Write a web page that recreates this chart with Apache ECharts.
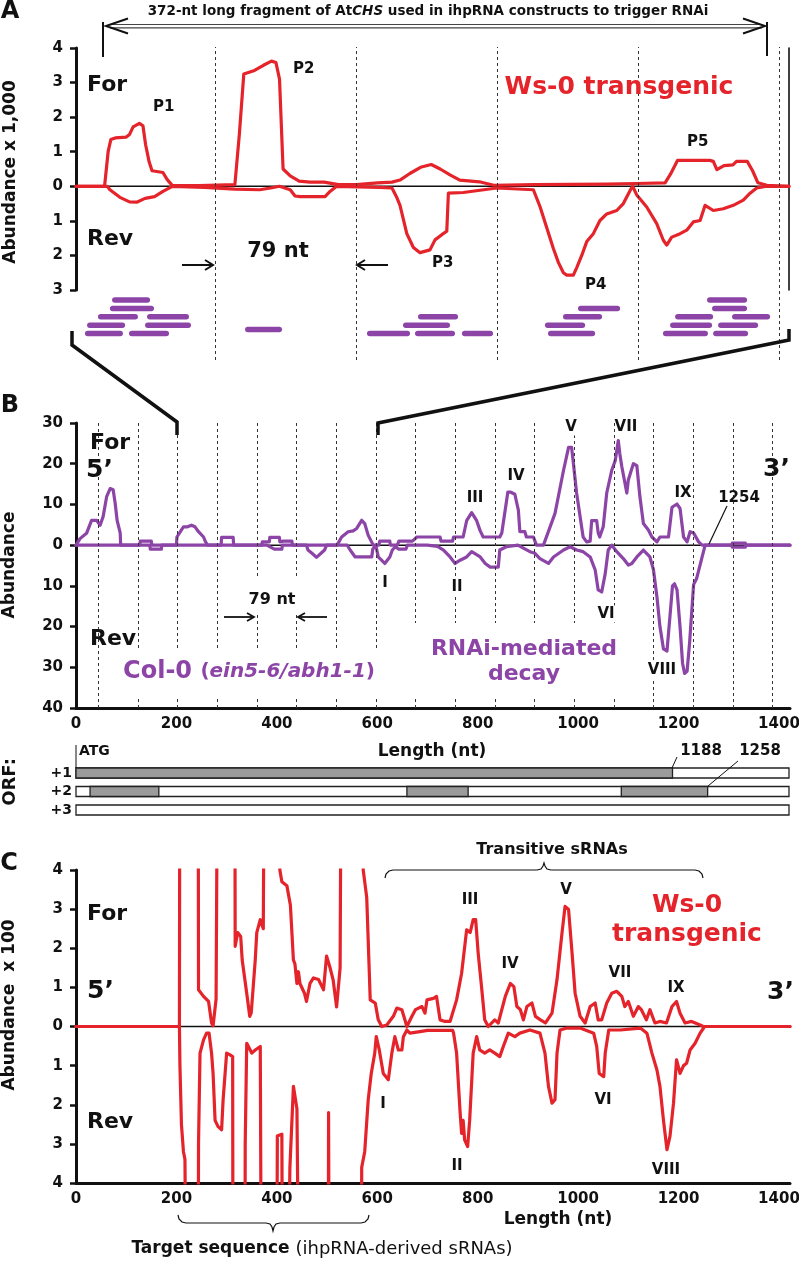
<!DOCTYPE html>
<html><head><meta charset="utf-8">
<script src="https://cdn.jsdelivr.net/npm/echarts@6/dist/echarts.min.js"></script>
<style>html,body{margin:0;padding:0;background:#fff}#c{width:799px;height:1262px}</style>
</head><body><div id="c"></div>
<script>
// ---------- DATA ----------
// Panel A (Ws-0 transgenic, zoom on 372-nt trigger), nt vs abundance x1000
const aForward = [[203,0],[219,0],[221,1.0],[222.5,1.35],[225,1.4],[231,1.42],[233,1.5],[235,1.72],[238.5,1.82],[240.5,1.75],[242,1.2],[244,0.7],[245.6,0.45],[251.7,0.4],[254,0.2],[257,0.02],[272,0.02],[292,0.05],[294.5,1.5],[297,3.25],[303,3.35],[308,3.5],[312.5,3.62],[315,3.58],[317,3.1],[319,0.5],[323,0.3],[328,0.15],[334,0.12],[342,0.12],[350,0.05],[360,0.05],[372,0.1],[380,0.12],[384.5,0.18],[390,0.37],[396,0.55],[402,0.63],[407,0.5],[412.5,0.33],[418,0.18],[429,0.13],[437,0.03],[460,0.05],[500,0.06],[517,0.08],[533,0.1],[536,0.35],[540,0.75],[558,0.75],[560,0.72],[562,0.48],[566,0.6],[571,0.62],[573,0.72],[579,0.72],[582,0.45],[585,0.1],[590,0.03],[602.4,0]];
const aReverse = [[203,0],[220.5,0],[222,-0.1],[227.6,-0.32],[233,-0.45],[237,-0.46],[241.7,-0.35],[247,-0.3],[251.7,-0.15],[257,0],[275,-0.03],[292,-0.08],[306,-0.1],[312,-0.05],[317,0],[323,-0.1],[325.7,-0.28],[328.5,-0.3],[342.5,-0.3],[345.3,-0.15],[349,0],[373,-0.03],[380,-0.05],[382.5,-0.3],[384.5,-0.55],[388.3,-1.37],[392,-1.77],[395.7,-1.92],[401.3,-1.84],[404.1,-1.55],[407.9,-1.4],[410.7,-1.3],[411.6,-0.2],[420,-0.18],[438.7,-0.05],[459.2,-0.1],[463,-0.6],[466.7,-1.2],[470.4,-1.8],[473.2,-2.2],[476,-2.5],[477.9,-2.57],[481.6,-2.57],[483.5,-2.35],[486.3,-2.0],[489.1,-1.6],[492.8,-1.37],[496.5,-0.99],[500.3,-0.8],[505.9,-0.7],[509.6,-0.5],[513.4,-0.12],[514.8,0],[517.1,-0.25],[522.7,-0.6],[528.3,-1.08],[532,-1.56],[533.9,-1.7],[536.7,-1.47],[541.4,-1.37],[545.1,-1.27],[548.8,-1.03],[552.6,-0.99],[555.4,-0.55],[560,-0.7],[565.6,-0.65],[571.2,-0.55],[576.8,-0.4],[580.6,-0.2],[584.3,-0.05],[590,0],[602.4,0]];
// sRNA positions under panel A: [start nt, end nt, row]
const aSrnaBars = [[223.2,244.5,0],[556.5,578.9,0],
 [222,246.7,1],[484.2,507.8,1],[559.3,578.9,1],
 [215.3,237.7,2],[242.8,266.3,2],[394.6,417,2],[475.8,497.7,2],[538.6,559.9,2],[570.5,591.8,2],
 [209.2,230.5,3],[241.7,267.4,3],[386.2,412.5,3],[465.7,488.2,3],[535.8,559.3,3],[562.7,585.1,3],
 [297.7,318.4,3.5],
 [208,229.3,4],[232.7,255.1,4],[366,390.1,4],[392.9,415.3,4],[419.2,436.6,4],[467.4,493.8,4],[531.8,557,4],[559.9,579.5,4]];
const aGuides = [281,360,439,518,597];
const aRange = [203,602.4];

// Panel B (Col-0), abundance
const bForward = [[0,0],[8,1.6],[21,2.9],[31,6.1],[41,6.1],[48,4.9],[54,7],[61,11.9],[68,13.9],[74,13.6],[78,10.3],[82,6],[88,3],[89,0],[127,0],[128,1],[150,1],[151,0],[200,0],[201,2],[214,4.5],[222,4.5],[230,4.9],[237,4.5],[244,3.3],[254,2],[258,0.8],[262,0],[289,0],[290,1.9],[313,1.9],[314,0],[370,0],[371,0.8],[385,0.8],[386,1.9],[405,1.9],[406,0.8],[413,1],[430,1],[431,0],[520,0],[529,2],[542,3.3],[552,3.5],[559,4.1],[569,6.1],[575,5.3],[582,2.4],[592,0],[603,0],[605,1],[625,1],[626,0],[640,0],[643,1],[670,1],[679,2],[725,2],[727,1],[750,1],[752,2],[771,2],[778,6],[788,8],[798,6],[805,3.5],[811,2],[844,2],[848,3],[860,13],[866,13],[874,12.5],[881,8.6],[884,3.3],[894,3.3],[897,2],[911,2],[917,0],[931,0],[954,7.8],[971,18.4],[981,24],[987,24],[990,20.8],[997,12.8],[1004,7],[1010,2],[1017,0.8],[1024,1],[1027,6],[1037,6],[1040,3],[1043,2],[1050,4.5],[1057,12.8],[1067,18.4],[1074,20.8],[1080,25.7],[1083,22.5],[1087,19.3],[1097,12.8],[1100,16],[1110,20],[1117,19.5],[1123,12],[1130,5.3],[1140,3.7],[1147,2],[1157,0.8],[1163,2],[1180,2],[1187,9.3],[1197,10.1],[1203,9],[1210,2],[1217,0.8],[1223,3.3],[1230,3],[1240,0.8],[1247,0],[1306,0],[1307,0.5],[1333,0.5],[1334,0],[1422,0]];
const bReverse = [[0,0],[147,0],[148,-1],[170,-1],[171,0],[380,0],[395,-1],[410,-1],[411,0],[459,0],[462,-1.2],[470,-2],[479,-3],[488,-2],[495,-1.2],[499,0],[540,0],[546,-1.2],[556,-2.9],[589,-2.9],[591,-1],[597,0],[602,-2.9],[615,-4.5],[625,-2.9],[630,-1.2],[636,-0.4],[643,-1],[657,-1],[660,0],[700,0],[720,-0.3],[732,-1.2],[745,-2.9],[755,-4.5],[765,-3.7],[778,-2.9],[788,-1.6],[805,-2.9],[815,-4.5],[825,-5.4],[841,-5.4],[844,-1.2],[857,-0.4],[880,0],[904,-1.6],[914,-2],[924,-3.3],[941,-4.5],[951,-2.9],[971,-1.2],[984,-0.4],[997,-1.2],[1010,-1.6],[1024,-2.9],[1034,-6.1],[1040,-11],[1047,-11.5],[1054,-7],[1060,-1.2],[1067,0],[1077,-1.6],[1090,-3.3],[1100,-4.9],[1107,-4.5],[1117,-2.9],[1130,-1.2],[1143,-2.9],[1150,-6],[1157,-12.7],[1163,-20],[1170,-25.5],[1177,-26],[1183,-17.4],[1188,-10],[1192,-9.5],[1197,-11],[1203,-20],[1208,-29],[1212,-31.5],[1217,-31],[1222,-24],[1230,-9.7],[1236,-8.2],[1247,-2.9],[1253,0],[1306,0],[1307,-0.5],[1333,-0.5],[1334,0],[1422,0]];
const bGuides = [44,123,202,281,360,439,518,597,676,755,834,913,992,1071,1150,1229,1308,1387];
const fullRange = [0,1422];

// ORF frames: [start nt, end nt, frame index, filled(1)/open(0)]
const orfFrames = ['+1','+2','+3'];
const orfSegments = [[0,1420,0,0],[0,1188,0,1],[0,1420,1,0],[28,165,1,1],[659,781,1,1],[1086,1258,1,1],[0,1420,2,0]];

// Panel C (Ws-0 transgenic, x100)
const cForward = [[0,0],[206,0],[207,10],[243,10],[244,0.94],[254,0.77],[264,0.64],[270,0.09],[273,0.02],[279,0.7],[283,10],[316,10],[317,2.05],[322,2.4],[328,2.3],[331,1.7],[340,0.85],[346,0.26],[349,0.35],[357,1.7],[360,2.4],[367,2.73],[373,2.5],[376,10],[405,10],[406,4.0],[410,3.7],[420,3.6],[427,3.1],[433,1.7],[436,1.6],[440,1.1],[443,1.4],[446,1.1],[455,0.85],[459,0.64],[466,1.1],[473,1.24],[483,1.2],[493,0.94],[499,1.8],[506,1.5],[512,1.2],[519,0.5],[526,1.5],[529,10],[571,10],[572,4],[579,3.3],[586,0.68],[596,0.6],[602,0.17],[609,0],[619,0.04],[632,0.26],[639,0.47],[649,0.43],[659,0],[669,0.26],[676,0.43],[689,0.51],[695,0.34],[699,0.68],[712,0.72],[718,0.77],[725,0.17],[735,0.13],[745,0.13],[758,0.68],[768,1.36],[778,2.47],[785,2.4],[791,2.73],[796,2.73],[801,1.87],[807,1.1],[814,0.17],[821,0],[834,0.17],[841,0.09],[855,0.77],[865,1.1],[872,1.02],[878,0.51],[885,0.43],[891,0.17],[898,0.51],[908,0.6],[915,0.26],[925,0.17],[935,0.09],[948,0.34],[958,1.2],[968,2.4],[974,3.07],[981,2.99],[988,1.87],[994,0.85],[1004,0.26],[1014,0.09],[1024,0.51],[1034,0.6],[1040,0.17],[1047,0.17],[1057,0.6],[1067,0.85],[1077,0.9],[1087,0.77],[1093,0.51],[1100,0.64],[1110,0.26],[1120,0.51],[1126,0.43],[1136,0.17],[1143,0.43],[1153,0.09],[1163,0.13],[1176,0.09],[1187,0.51],[1196,0.64],[1203,0.34],[1213,0.09],[1226,0.13],[1243,0.04],[1249,0],[1422,0]];
const cReverse = [[0,0],[206,0],[207,-1],[210,-2.5],[214,-3.2],[217,-3.4],[221,-10],[243,-10],[244,-3],[247,-0.68],[254,-0.34],[260,-0.17],[265,-0.17],[270,-0.68],[273,-1.2],[277,-2.4],[283,-2.56],[290,-2.64],[293,-1.87],[300,-0.68],[306,-0.72],[312,-0.77],[313,-10],[336,-10],[337,-3],[340,-0.43],[350,-0.68],[357,-0.6],[367,-0.51],[370,-10],[399,-10],[401,-2.8],[410,-2.75],[412,-10],[420,-10],[426,-3.6],[433,-1.53],[436,-1.53],[440,-2.1],[446,-10],[502,-10],[503,-2.2],[505,-10],[568,-10],[569,-3.6],[575,-3.2],[582,-1.87],[588,-1.2],[595,-0.68],[598,-0.26],[604,-0.6],[612,-1.2],[622,-1.36],[629,-0.68],[635,-0.26],[642,-0.6],[649,-0.6],[652,-0.26],[659,-0.09],[665,-0.17],[685,-0.13],[700,-0.1],[750,-0.1],[752,-0.17],[758,-0.68],[765,-2.2],[768,-2.73],[771,-2.4],[774,-2.9],[780,-3.07],[784,-2.4],[791,-0.68],[798,-0.26],[804,-0.6],[814,-0.68],[824,-0.6],[834,-0.68],[844,-0.77],[851,-0.51],[861,-0.17],[874,-0.26],[884,-0.17],[904,-0.09],[924,-0.17],[934,-0.68],[941,-1.53],[948,-1.96],[954,-1.87],[958,-0.68],[964,-0.09],[978,-0.04],[1004,-0.04],[1031,-0.17],[1037,-0.51],[1042,-1.2],[1051,-1.28],[1054,-0.68],[1061,-0.09],[1084,-0.09],[1124,-0.04],[1137,-0.17],[1147,-0.68],[1157,-1.11],[1163,-1.53],[1170,-2.4],[1177,-3.15],[1183,-2.8],[1190,-1.96],[1196,-0.85],[1203,-1.2],[1210,-1.0],[1216,-0.94],[1223,-0.6],[1233,-0.43],[1243,-0.17],[1252,0],[1422,0]];

// ---------- CHART ----------
const F = '"DejaVu Sans", "Liberation Sans", sans-serif';
const RED = '#e4232a', PUR = '#8c45a7', BLK = '#111';
const chart = echarts.init(document.getElementById('c'), null, {renderer:'canvas'});

function grid(l,t,w,h){return {left:l,top:t,width:w,height:h,containLabel:false,outerBoundsMode:'none'};}
const lbl = (size, extra) => Object.assign({color:BLK, fontFamily:F, fontWeight:'bold', fontSize:size}, extra||{});
function valueY(gi,min,max,interval){
  return {gridIndex:gi,type:'value',min:min,max:max,interval:interval,
    axisLine:{show:true,onZero:false,lineStyle:{color:BLK,width:3}},
    axisTick:{show:true,inside:false,length:6,lineStyle:{color:BLK,width:2.5}},
    axisLabel:lbl(15,{margin:13,formatter:v=>String(Math.abs(v))}),
    splitLine:{show:false}};
}
function borderY(gi){
  return {gridIndex:gi,type:'value',position:'right',min:0,max:1,
    axisLine:{show:true,lineStyle:{color:BLK,width:1.6}},axisTick:{show:false},axisLabel:{show:false},splitLine:{show:false}};
}
function lengthX(gi){
  return {gridIndex:gi,type:'value',min:fullRange[0],max:fullRange[1],interval:200,
    axisLine:{show:true,onZero:false,lineStyle:{color:BLK,width:3}},
    axisTick:{show:false},splitLine:{show:false},
    axisLabel:lbl(15,{margin:9,showMaxLabel:false,formatter:v=>String(v)})};
}
const hiddenX = (gi,r)=>({gridIndex:gi,type:'value',min:r[0],max:r[1],show:false,splitLine:{show:false}});

function line(xi,yi,data,color,w,z){
  return {type:'line',xAxisIndex:xi,yAxisIndex:yi,data:data,symbol:'none',showSymbol:false,silent:true,
    lineStyle:{color:color,width:w,join:'round',cap:'round'},z:z||2,clip:true,animation:false};
}
function guides(vals){
  return {symbol:'none',silent:true,animation:false,label:{show:false},
    lineStyle:{type:[3,3],color:'#333',width:1},data:vals.map(v=>({xAxis:v}))};
}

const zeroA = line(0,0,[[aRange[0],0],[aRange[1],0]],BLK,1.6,1);
const dashA = line(2,3,[[aRange[0],0.5]],'rgba(0,0,0,0)',0,1); dashA.markLine = guides(aGuides);
const zeroB = line(3,4,[[fullRange[0],0],[fullRange[1],0]],BLK,1.5,1); zeroB.markLine = guides(bGuides);
const zeroC = line(5,7,[[fullRange[0],0],[fullRange[1],0]],BLK,1.5,1);

const srnaSeries = {type:'custom',xAxisIndex:1,yAxisIndex:2,data:aSrnaBars,encode:{x:[0,1],y:2},silent:true,animation:false,
  renderItem:(p,api)=>{const s=api.coord([api.value(0),api.value(2)]);const e=api.coord([api.value(1),api.value(2)]);const h=5.5;
    return {type:'rect',shape:{x:s[0],y:s[1]-h/2,width:e[0]-s[0],height:h,r:h/2},style:{fill:PUR}};}};
const orfSeries = {type:'custom',xAxisIndex:4,yAxisIndex:6,data:orfSegments,encode:{x:[0,1],y:2},silent:true,animation:false,
  renderItem:(p,api)=>{const s=api.coord([api.value(0),api.value(2)]);const e=api.coord([api.value(1),api.value(2)]);const h=10;
    return {type:'rect',shape:{x:s[0],y:s[1]-h/2,width:e[0]-s[0],height:h},style:{fill:api.value(3)?'#9b9b9b':'#fff',stroke:'#222',lineWidth:1.3}};}};

// ---------- annotations ----------
function T(text,x,y,size,o){o=o||{};
  const st={text:text,font:(o.italic?'italic ':'')+(o.normal?'':'bold ')+size+'px '+F,fill:o.color||BLK,
    textAlign:o.align||'center',textVerticalAlign:'middle'};
  if(o.bg){st.backgroundColor='#fff';st.padding=o.pad||[1,2];}
  if(o.rich){st.rich=o.rich;}
  return {type:'text',x:x,y:y,rotation:o.rot||0,z:30,silent:true,style:st};}
function P(points,w,c){return {type:'polyline',z:25,silent:true,shape:{points:points},style:{stroke:c||BLK,lineWidth:w,fill:null,lineJoin:'miter'}};}
function W(x,y,w,h){return {type:'rect',z:20,silent:true,shape:{x:x,y:y,width:w,height:h},style:{fill:'#fff'}};}
const rich = (f)=>({fill:BLK,font:f});

const graphics = [
  // panel letters
  T('A',10,12,24), T('B',10,406,24), T('C',9,864,24),
  // title arrow
  T('{a|372-nt long fragment of At}{b|CHS}{a| used in ihpRNA constructs to trigger RNAi}',428,11,13.5,
     {rich:{a:rich('bold 13.5px '+F),b:rich('italic bold 13.5px '+F)}}),
  P([[110,24.5],[762,24.5]],1.2,'#444'), P([[110,27.8],[762,27.8]],1.2,'#444'),
  P([[128,18.5],[106,26],[128,33.5]],2), P([[743,18.5],[765,26],[743,33.5]],2),
  P([[103,22],[103,57]],2), P([[767,22],[767,56]],2),
  // panel A texts
  T('Abundance x 1,000',11,172,17,{rot:Math.PI/2}),
  T('For',87,85,22,{align:'left'}), T('Rev',87,239,22,{align:'left'}),
  T('P1',153,107,15,{align:'left'}), T('P2',293,69,15,{align:'left'}), T('P3',432,263,15,{align:'left'}),
  T('P4',585,285,15,{align:'left'}), T('P5',687,142,15,{align:'left'}),
  T('Ws-0 transgenic',619,87,25,{color:RED}),
  T('79 nt',278,252,21),
  P([[182,265],[213,265]],2), P([[205,260],[213,265],[205,270]],2),
  P([[388,265],[357,265]],2), P([[365,260],[357,265],[365,270]],2),
  // zoom brackets
  P([[72,331],[72,345],[177,422],[177,435]],3.5), P([[378,435],[378,423],[789,340],[789,329]],3.5),
  // panel B texts
  T('Abundance',10,565,17,{rot:Math.PI/2}),
  T('For',90,443,22,{align:'left'}), T('5\u2019',86,470,25,{align:'left'}), T('Rev',90,639,22,{align:'left'}),
  T('3\u2019',763,469,25,{align:'left'}),
  W(240,578,66,34), T('79 nt',272,600,16),
  P([[224,617],[254,617]],1.8), P([[247,613],[254,617],[247,621]],1.8),
  P([[327,617],[298,617]],1.8), P([[305,613],[298,617],[305,621]],1.8),
  T('I',385,583,15), T('II',457,587,15,{bg:true}), T('III',475,498,15), T('IV',516,476,15),
  T('V',571,427,15,{bg:true}), T('VI',606,614,15,{bg:true}), T('VII',626,427,15), T('VIII',662,670,15,{bg:true}),
  T('IX',683,493,15), T('1254',739,498,15), P([[727,506],[709,544]],1.2),
  W(112,650,272,47),
  T('{a|Col-0 }{b|(}{c|ein5-6/abh1-1}{b|)}',249,672,24,{rich:{a:{fill:PUR,font:'bold 24px '+F},b:{fill:PUR,font:'bold 20px '+F},c:{fill:PUR,font:'italic bold 20px '+F}}}),
  W(408,623,214,76),
  T('RNAi-mediated',524,649,22,{color:PUR}), T('decay',524,674,22,{color:PUR}),
  T('Length (nt)',432,752,17),
  // ORF
  T('ORF:',10,782,18,{rot:Math.PI/2}),
  T('ATG',79,751,14,{align:'left'}), P([[76,745],[76,768]],1),
  T('1188',701,751,15), P([[672,768],[677,757]],1),
  T('1258',760,751,15), P([[708,786],[738,761]],1),
  // panel C texts
  T('Abundance  x 100',10,1005,17,{rot:Math.PI/2}),
  T('For',87,914,22,{align:'left'}), T('5\u2019',87,991,25,{align:'left'}), T('Rev',87,1122,22,{align:'left'}),
  T('3\u2019',767,992,25,{align:'left'}),
  T('Transitive sRNAs',552,850,16),
  P([[385,878],[386,874],[389,871],[393,870],[537,870],[541,869],[543,866],[544,863],[545,866],[547,869],[551,870],[695,870],[699,871],[702,874],[703,878]],1.2),
  T('Ws-0',687,905,25,{color:RED}), T('transgenic',687,934,25,{color:RED}),
  T('I',383,1104,15), T('II',457,1166,15), T('III',470,900,15), T('IV',510,964,15), T('V',566,890,15),
  T('VI',603,1100,15), T('VII',620,973,15), T('VIII',666,1170,15), T('IX',676,988,15),
  T('Length (nt)',558,1220,17),
  P([[178,1215],[179,1219],[182,1222],[186,1223],[266,1223],[270,1224],[272,1227],[273,1231],[274,1227],[276,1224],[280,1223],[361,1223],[365,1222],[368,1219],[369,1215]],1.2),
  T('{a|Target sequence }{b|(ihpRNA-derived sRNAs)}',322,1249,17,{rich:{a:rich('bold 17px '+F),b:rich('18px '+F)}})
];

chart.setOption({
  animation:false,
  backgroundColor:'#fff',
  textStyle:{fontFamily:F},
  grid:[grid(76,48,713,242),grid(76,295.8,713,42),grid(76,47,713,313),grid(76,423,714,285),grid(76,763.75,714,55.5),grid(76,870,714,313)],
  xAxis:[hiddenX(0,aRange),hiddenX(1,aRange),hiddenX(2,aRange),lengthX(3),hiddenX(4,fullRange),lengthX(5)],
  yAxis:[valueY(0,-3,4,1),borderY(0),
    {gridIndex:1,type:'value',min:-0.5,max:4.5,inverse:true,show:false,splitLine:{show:false}},
    {gridIndex:2,type:'value',min:0,max:1,show:false,splitLine:{show:false}},
    valueY(3,-40,30,10),borderY(3),
    {gridIndex:4,type:'category',data:orfFrames,inverse:true,axisLine:{show:false},axisTick:{show:false},splitLine:{show:false},axisLabel:lbl(14,{margin:4})},
    valueY(5,-4,4,1),borderY(5)],
  series:[zeroA,dashA,
    line(0,0,aReverse,RED,3.2),line(0,0,aForward,RED,3.2),
    srnaSeries,
    zeroB,line(3,4,bReverse,PUR,3.2),line(3,4,bForward,PUR,3.2),
    orfSeries,
    zeroC,line(5,7,cReverse,RED,3.2),line(5,7,cForward,RED,3.2)],
  graphic:{elements:graphics}
});
</script></body></html>
